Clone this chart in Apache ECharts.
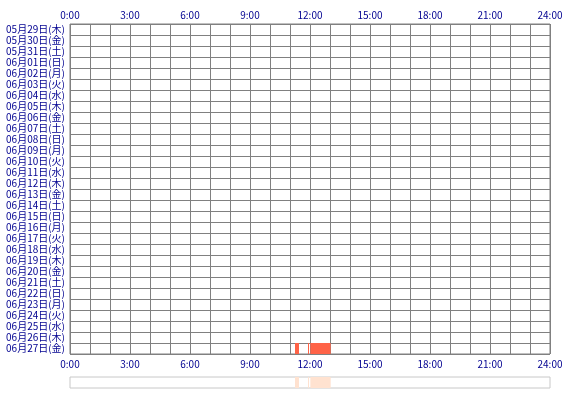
<!DOCTYPE html>
<html>
<head>
<meta charset="utf-8">
<script src="https://cdn.jsdelivr.net/npm/echarts@6/dist/echarts.min.js"></script>
<style>
  html, body { margin: 0; padding: 0; background: #fff; }
  #chart { width: 570px; height: 400px; }
</style>
</head>
<body>
<div id="chart"></div>
<script>
  // one row per day, top to bottom
  const days = [
    "05月29日(木)", "05月30日(金)", "05月31日(土)", "06月01日(日)", "06月02日(月)",
    "06月03日(火)", "06月04日(水)", "06月05日(木)", "06月06日(金)", "06月07日(土)",
    "06月08日(日)", "06月09日(月)", "06月10日(火)", "06月11日(水)", "06月12日(木)",
    "06月13日(金)", "06月14日(土)", "06月15日(日)", "06月16日(月)", "06月17日(火)",
    "06月18日(水)", "06月19日(木)", "06月20日(金)", "06月21日(土)", "06月22日(日)",
    "06月23日(月)", "06月24日(火)", "06月25日(水)", "06月26日(木)", "06月27日(金)",
  ];

  // active periods
  const segDay = ["06月27日(金)", "06月27日(金)", "06月27日(金)"];
  const segStart = ["11:15", "11:54", "12:01"];
  const segEnd = ["11:27", "11:57", "13:02"];

  const hours = (t) => {
    const p = t.split(":");
    return +p[0] + +p[1] / 60;
  };

  const segData = segDay.map((d, i) => [
    days.indexOf(d),
    hours(segStart[i]),
    hours(segEnd[i]),
  ]);

  const chart = echarts.init(document.getElementById("chart"));

  const textColor = "#000090";
  const lineColor = "#808080";

  const hourLabel = (v) => (v % 3 === 0 ? v + ":00" : "");

  const renderSeg = (params, api) => {
    const row = api.value(0);
    const p0 = api.coord([api.value(1), row]);
    const p1 = api.coord([api.value(2), row]);
    const h = api.size([0, 1])[1];
    const shape = echarts.graphic.clipRectByRect(
      { x: p0[0], y: p0[1] - h / 2, width: p1[0] - p0[0], height: h },
      {
        x: params.coordSys.x,
        y: params.coordSys.y,
        width: params.coordSys.width,
        height: params.coordSys.height,
      }
    );
    return shape && { type: "rect", shape: shape, style: api.style() };
  };

  const option = {
    animation: false,
    textStyle: { fontFamily: "Noto Sans CJK JP" },
    grid: [
      {
        left: 70,
        right: 20,
        top: 24,
        bottom: 46,
        show: true,
        borderColor: lineColor,
        borderWidth: 1,
      },
      {
        left: 70,
        right: 20,
        top: 377,
        height: 11,
        show: true,
        borderColor: "#c8c8c8",
        borderWidth: 1,
      },
    ],
    xAxis: [
      {
        gridIndex: 0,
        type: "value",
        position: "bottom",
        min: 0,
        max: 24,
        interval: 1,
        axisLine: { show: false },
        axisTick: { show: false },
        axisLabel: {
          color: textColor,
          fontSize: 10,
          margin: 5,
          formatter: hourLabel,
        },
        splitLine: { show: true, lineStyle: { color: lineColor, width: 1 } },
      },
      {
        gridIndex: 0,
        type: "value",
        position: "top",
        min: 0,
        max: 24,
        interval: 1,
        axisLine: { show: false },
        axisTick: { show: false },
        axisLabel: {
          color: textColor,
          fontSize: 10,
          margin: 4,
          formatter: hourLabel,
        },
        splitLine: { show: false },
      },
      {
        gridIndex: 1,
        type: "value",
        min: 0,
        max: 24,
        show: false,
      },
    ],
    yAxis: [
      {
        gridIndex: 0,
        type: "category",
        data: days,
        inverse: true,
        axisLine: { show: false },
        axisTick: { show: false },
        axisLabel: {
          color: textColor,
          fontSize: 10,
          margin: 5,
          interval: 0,
        },
        splitLine: {
          show: true,
          interval: 0,
          lineStyle: { color: lineColor, width: 1 },
        },
      },
      {
        gridIndex: 1,
        type: "category",
        data: ["all"],
        show: false,
      },
    ],
    series: [
      {
        type: "custom",
        xAxisIndex: 0,
        yAxisIndex: 0,
        renderItem: renderSeg,
        itemStyle: { color: "#ff6347" },
        encode: { x: [1, 2], y: 0 },
        data: segData,
        z: 5,
      },
      {
        type: "custom",
        xAxisIndex: 2,
        yAxisIndex: 1,
        renderItem: renderSeg,
        itemStyle: { color: "#ffe2d0" },
        encode: { x: [1, 2], y: 0 },
        data: segData.map((s) => [0, s[1], s[2]]),
      },
    ],
  };

  chart.setOption(option);
</script>
</body>
</html>
